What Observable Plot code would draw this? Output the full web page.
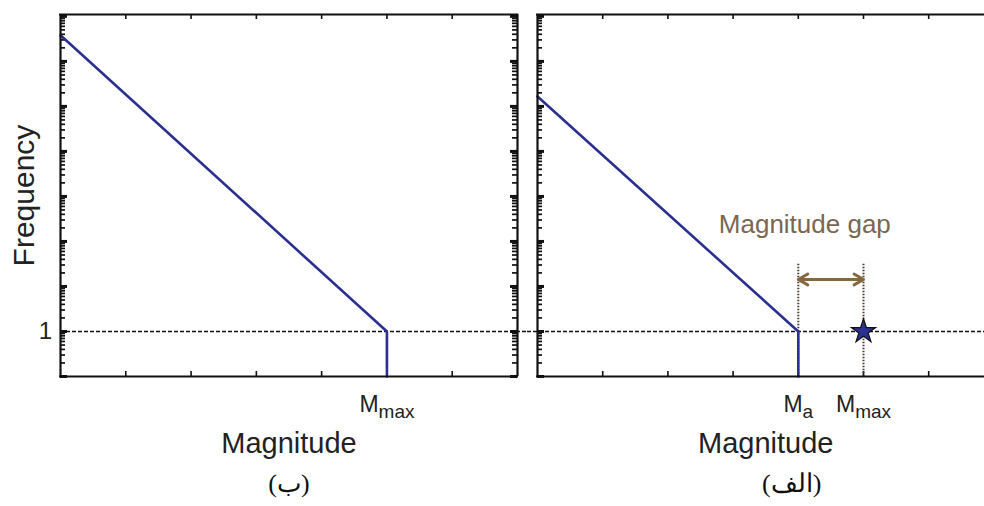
<!DOCTYPE html>
<html>
<head>
<meta charset="utf-8">
<script src="https://cdn.jsdelivr.net/npm/d3@7"></script>
<script src="https://cdn.jsdelivr.net/npm/@observablehq/plot@0.6"></script>
<style>
  html, body { margin: 0; padding: 0; background: #fff; }
  #wrap { position: relative; width: 984px; height: 506px; overflow: hidden; }
  #wrap svg { position: absolute; top: 0; }
</style>
</head>
<body>
<div id="wrap"></div>
<script>
// ---- data ----
const xTitle = "Magnitude";
const yTitle = "Frequency";
const yTickLabel = [1];
const gapLabel = "Magnitude gap";
const panelLabels = ["(ب)", "(الف)"];

// left panel (ب): Gutenberg-Richter line ending at Mmax
const leftMag  = [0, 5, 5];
const leftFreq = [3.8e6, 1, 0.1];
const leftMarks = [{x: 5, main: "M", sub: "max"}];

// right panel (الف): line ending at Ma, observed Mmax as a star
const rightMag  = [0, 4, 4];
const rightFreq = [1.66e5, 1, 0.1];
const rightMarks = [{x: 4, main: "M", sub: "a"}, {x: 5, main: "M", sub: "max"}];
const starMag = [5];
const starFreq = [1];
const gapMag = [4, 5];          // Ma, Mmax
const gapGuideTop = 31;         // top of dotted guides (frequency)
const gapArrowFreq = 14.3;      // arrow height (frequency)
const gapLabelPos = {x: 4.1, y: 240};

const xTicks = [1, 2, 3, 4, 5, 6];
const yDomain = [0.1, 1.1e7];

// ---- styles ----
const BLUE = "#2b2f8f";
const BROWN = "#86683f";
const FONT = "'Liberation Sans', Arial, Helvetica, sans-serif";
const SERIF = "'Liberation Serif', 'DejaVu Serif', serif";

const yTicksAll = d3.scaleLog().domain(yDomain).ticks().filter(v => v >= yDomain[0] && v <= yDomain[1]);
const yMajor = yTicksAll.filter(v => Math.abs(Math.log10(v) - Math.round(Math.log10(v))) < 1e-9);
const yMinor = yTicksAll.filter(v => !yMajor.includes(v));

const H = 506, MT = 14, MB = 130;
const FH = H - MT - MB; // frame height

function addSubs(svg, cls, items) {
  d3.select(svg).selectAll(`g.${cls} text`).each(function(_, i) {
    const t = d3.select(this);
    t.append("tspan").attr("font-size", 19).attr("dy", 6).text(items[i].sub);
  });
}

function commonYTicks(side, fw) {
  const o = side === "left" ? "insetRight" : "insetLeft";
  return [
    Plot.tickY(yMinor, {y: d => d, stroke: "#111", strokeWidth: 1.7, [o]: fw - 5}),
    Plot.tickY(yMajor, {y: d => d, stroke: "#111", strokeWidth: 3, [o]: fw - 7})
  ];
}
function commonXTicks() {
  return [
    Plot.tickX(xTicks, {x: d => d, stroke: "#111", strokeWidth: 1.6, insetTop: FH - 5}),
    Plot.tickX(xTicks, {x: d => d, stroke: "#111", strokeWidth: 1.6, insetBottom: FH - 5})
  ];
}

// ---------- LEFT PANEL ----------
const LW = 527, LML = 60, LMR = 10;
const LFW = LW - LML - LMR;
const left = Plot.plot({
  width: LW, height: H,
  marginTop: MT, marginBottom: MB, marginLeft: LML, marginRight: LMR,
  style: {fontFamily: FONT, background: "transparent", overflow: "visible"},
  x: {domain: [0, 7], axis: null},
  y: {type: "log", domain: yDomain, axis: null},
  marks: [
    ...commonYTicks("left", LFW),
    ...commonYTicks("right", LFW),
    ...commonXTicks(),
    Plot.ruleY([1], {stroke: "#111", strokeWidth: 1.7, strokeDasharray: "4,2", insetRight: -10}),
    Plot.line(leftMag.map((m, i) => ({m, f: leftFreq[i]})), {x: "m", y: "f", stroke: BLUE, strokeWidth: 2.6}),
    Plot.ruleX([0, 7], {stroke: "#111", strokeWidth: 2.2}),
    Plot.ruleY(yDomain, {stroke: "#111", strokeWidth: 2.2, insetLeft: -1, insetRight: -1}),
    Plot.text(yTickLabel, {y: d => d, text: d => String(d), frameAnchor: "left", dx: -15, textAnchor: "middle", fontSize: 24, fill: "#222"}),
    Plot.text([yTitle], {text: d => d, frameAnchor: "left", textAnchor: "middle", rotate: -90, dx: -36.5, fontSize: 30, fill: "#222"}),
    Plot.text([xTitle], {text: d => d, frameAnchor: "bottom", dy: 76.5, fontSize: 29, fill: "#222"}),
    Plot.text(leftMarks, {x: "x", text: "main", frameAnchor: "bottom", dy: 35.5, fontSize: 23, fill: "#222", className: "sublab"}),
    Plot.text([panelLabels[0]], {text: d => d, frameAnchor: "bottom", dy: 115, fontSize: 26, fontFamily: SERIF, fill: "#111"})
  ]
});
left.style.left = "0px";
addSubs(left, "sublab", leftMarks);

// ---------- RIGHT PANEL ----------
const RX = 527, RW = 984 - RX, RML = 10, RMR = 0;
const RFW = RW - RML - RMR;
const xMaxR = RFW / 65.2;
const right = Plot.plot({
  width: RW, height: H,
  marginTop: MT, marginBottom: MB, marginLeft: RML, marginRight: RMR,
  style: {fontFamily: FONT, background: "transparent", overflow: "visible"},
  x: {domain: [0, xMaxR], axis: null},
  y: {type: "log", domain: yDomain, axis: null},
  marks: [
    ...commonYTicks("left", RFW),
    ...commonXTicks(),
    Plot.ruleY([1], {stroke: "#111", strokeWidth: 1.7, strokeDasharray: "4,2", insetLeft: -10}),
    Plot.ruleX(gapMag, {x: d => d, y1: gapGuideTop, y2: yDomain[0], stroke: "#4a3d2c", strokeWidth: 2, strokeDasharray: "1.5,1.5"}),
    Plot.arrow([{a: (gapMag[0] + gapMag[1]) / 2, b: gapMag[0]}, {a: (gapMag[0] + gapMag[1]) / 2, b: gapMag[1]}],
      {x1: "a", x2: "b", y1: () => gapArrowFreq, y2: () => gapArrowFreq, stroke: BROWN, strokeWidth: 3, headLength: 9}),
    Plot.line(rightMag.map((m, i) => ({m, f: rightFreq[i]})), {x: "m", y: "f", stroke: BLUE, strokeWidth: 2.6}),
    Plot.dot(starMag.map((m, i) => ({m, f: starFreq[i]})), {x: "m", y: "f", symbol: "star", r: 7.6, fill: BLUE, stroke: "#111", strokeWidth: 1.2}),
    Plot.ruleX([0], {stroke: "#111", strokeWidth: 2.2}),
    Plot.ruleY(yDomain, {stroke: "#111", strokeWidth: 2.2, insetLeft: -1}),
    Plot.text([gapLabel], {x: () => gapLabelPos.x, y: () => gapLabelPos.y, text: d => d, fontSize: 26, fill: "#7b6650"}),
    Plot.text([xTitle], {x: () => 3.5, text: d => d, frameAnchor: "bottom", dy: 76.5, fontSize: 29, fill: "#222"}),
    Plot.text(rightMarks, {x: "x", text: "main", frameAnchor: "bottom", dy: 35.5, fontSize: 23, fill: "#222", className: "sublab"}),
    Plot.text([panelLabels[1]], {x: () => 3.9, text: d => d, frameAnchor: "bottom", dy: 115, fontSize: 26, fontFamily: SERIF, fill: "#111"})
  ]
});
right.style.left = RX + "px";
addSubs(right, "sublab", rightMarks);

const wrap = document.getElementById("wrap");
wrap.appendChild(left);
wrap.appendChild(right);
</script>
</body>
</html>
